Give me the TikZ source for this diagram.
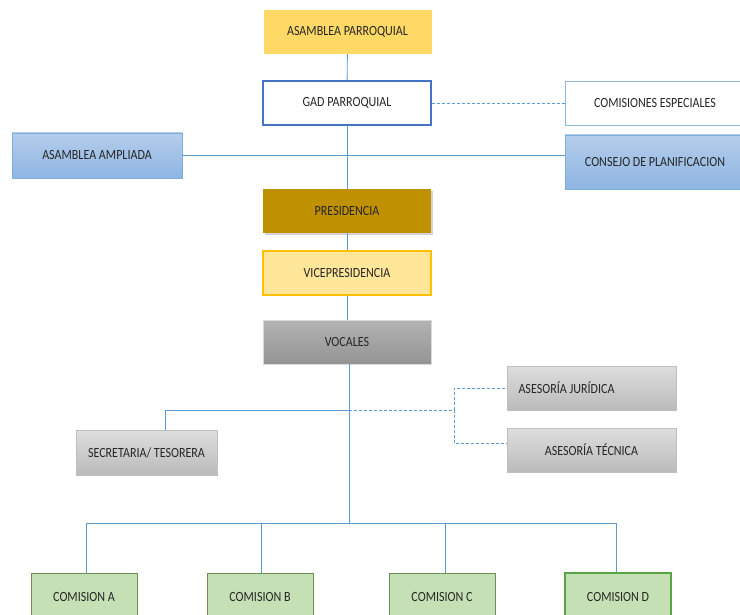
\documentclass[tikz,border=0pt]{standalone}
\usepackage{fontspec}
\setmainfont{Carlito}[FakeStretch=0.86]
\usetikzlibrary{shadows}
\definecolor{lineblue}{HTML}{5B9BD5}
\definecolor{gold}{HTML}{FFD966}
\definecolor{darkgold}{HTML}{BF9000}
\definecolor{paleyellow}{HTML}{FFE699}
\definecolor{amber}{HTML}{FFC000}
\definecolor{gadblue}{HTML}{4472C4}
\definecolor{greenfill}{HTML}{C5E0B4}
\definecolor{greenline}{HTML}{6D8F55}
\definecolor{skytop}{HTML}{B4CDEB}
\definecolor{skybottom}{HTML}{8FB5E3}
\begin{document}
\begin{tikzpicture}
	[x=1pt, y=-1pt,
	block/.style={minimum width=168pt, minimum height=44pt, inner sep=0pt,
		font=\fontsize{14}{16}\selectfont, text=black!85},
	bluebox/.style={block, draw=lineblue!80, top color=skytop, bottom color=skybottom},
	greybox/.style={block, draw=black!25, top color=black!13, bottom color=black!27},
	comision/.style={block, minimum width=106pt, minimum height=48pt, draw=greenline, fill=greenfill},
	link/.style={draw=lineblue, line width=0.9pt},
	dlink/.style={link, dashed, dash pattern=on 3pt off 2pt}]
	\useasboundingbox (0,0) rectangle (740,615);
	\clip (0,0) rectangle (740,615);
	% main column
	\node (asamblea) [block, fill=gold] at (347.5,32) {ASAMBLEA PARROQUIAL};
	\node (gad) [block, draw=gadblue, line width=1.6pt, fill=white] at (347,103) {GAD PARROQUIAL};
	\node (presidencia) [block, fill=darkgold, drop shadow={opacity=0.35}] at (347,211) {PRESIDENCIA};
	\node (vice) [block, fill=paleyellow, draw=amber, line width=1.2pt] at (347,273) {VICEPRESIDENCIA};
	\node (vocales) [greybox, top color=black!30, bottom color=black!42, draw=black!15] at (347,342) {VOCALES};
	% sides
	\node (especiales) [block, minimum width=180pt, draw=lineblue!70, fill=white] at (655,103) {COMISIONES ESPECIALES};
	\node (consejo) [bluebox, minimum width=180pt, minimum height=54pt] at (655,162) {CONSEJO DE PLANIFICACION};
	\node (ampliada) [bluebox, minimum width=170pt, minimum height=45pt] at (97,155.5) {ASAMBLEA AMPLIADA};
	\node (juridica) [greybox, minimum width=169pt] at (591.5,388) {\hspace*{-50pt}ASESORÍA JURÍDICA};
	\node (tecnica) [greybox, minimum width=169pt] at (591.5,450) {ASESORÍA TÉCNICA};
	\node (secretaria) [greybox, minimum width=141pt, minimum height=45pt] at (146.5,452.5) {SECRETARIA/ TESORERA};
	% comisiones
	\node (comA) [comision] at (84,597) {COMISION A};
	\node (comB) [comision] at (260,597) {COMISION B};
	\node (comC) [comision] at (442,597) {COMISION C};
	\node (comD) [comision, line width=1.3pt, draw=greenline!80!green] at (618,597) {COMISION D};
	\coordinate (staff) at (349,410);
	\coordinate (fork) at (454,410);
	\coordinate (bus) at (349,523);
	% connectors
	\draw[link] (asamblea) -- (gad);
	\draw[link] (gad) -- (presidencia);
	\draw[link] (presidencia) -- (vice);
	\draw[link] (vice) -- (vocales);
	\draw[link] (vocales.south -| bus) -- (bus);
	\draw[link] (ampliada) -- (consejo.west |- ampliada);
	\draw[dlink] (gad) -- (especiales);
	\draw[link] (staff) -| (secretaria.north -| 165,0);
	\draw[dlink] (staff) -- (fork);
	\draw[dlink] (fork) |- (juridica.west);
	\draw[dlink] (fork) |- (tecnica.west |- 0,443);
	\draw[link] (bus) -| (comA.north -| 86,0);
	\draw[link] (bus) -| (comB.north -| 261,0);
	\draw[link] (bus) -| (comC.north -| 445,0);
	\draw[link] (bus) -| (comD.north -| 616,0);
\end{tikzpicture}
\end{document}
